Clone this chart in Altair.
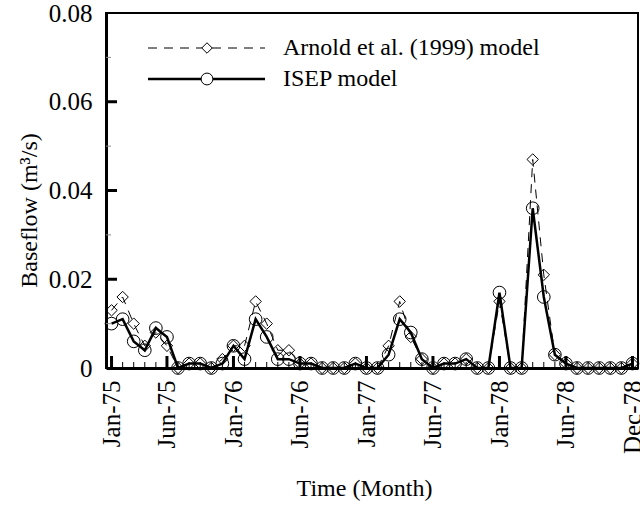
import altair as alt
import pandas as pd

# ---- data ----
months = list(range(48))  # Jan-75 ... Dec-78 (monthly index)

isep = [0.010, 0.011, 0.006, 0.004, 0.009, 0.007,
        0.000, 0.001, 0.001, 0.000, 0.001, 0.005,
        0.002, 0.011, 0.007, 0.002, 0.002, 0.001,
        0.001, 0.000, 0.000, 0.000, 0.001, 0.000,
        0.000, 0.003, 0.011, 0.008, 0.002, 0.000,
        0.001, 0.001, 0.002, 0.000, 0.000, 0.017,
        0.000, 0.000, 0.036, 0.016, 0.003, 0.001,
        0.000, 0.000, 0.000, 0.000, 0.000, 0.001]

arnold = [0.013, 0.016, 0.010, 0.005, 0.008, 0.005,
          0.000, 0.001, 0.001, 0.000, 0.002, 0.005,
          0.005, 0.015, 0.010, 0.004, 0.004, 0.001,
          0.001, 0.000, 0.000, 0.000, 0.001, 0.000,
          0.000, 0.005, 0.015, 0.007, 0.002, 0.000,
          0.001, 0.001, 0.002, 0.000, 0.000, 0.015,
          0.000, 0.000, 0.047, 0.021, 0.003, 0.001,
          0.000, 0.000, 0.000, 0.000, 0.000, 0.001]

x_tick_pos = [0, 5, 11, 17, 23, 29, 35, 41, 47]
x_tick_text = ["Jan-75", "Jun-75", "Jan-76", "Jun-76", "Jan-77",
               "Jun-77", "Jan-78", "Jun-78", "Dec-78"]
y_ticks = [0, 0.02, 0.04, 0.06, 0.08]
y_minor = [0.01, 0.03, 0.05, 0.07]

series_names = ["Arnold et al. (1999) model", "ISEP model"]

# ---- layout ----
W, H = 532, 355
FONT = "Liberation Serif"
FS = 24
LFS = 25

df_a = pd.DataFrame({"m": months, "v": arnold})
df_i = pd.DataFrame({"m": months, "v": isep})
df_xt = pd.DataFrame({"m": x_tick_pos})
df_xm = pd.DataFrame({"m": [m for m in months if m not in x_tick_pos]})
df_yt = pd.DataFrame({"v": y_ticks[1:-1]})
df_ym = pd.DataFrame({"v": y_minor})

label_map = "{" + ",".join(f"'{p}':'{t}'" for p, t in zip(x_tick_pos, x_tick_text)) + "}"

xscale = alt.Scale(domain=[-0.5, 47.5], nice=False, zero=False)
yscale = alt.Scale(domain=[0, 0.08], nice=False)

xaxis = alt.Axis(values=x_tick_pos, labelExpr=f"{label_map}[datum.value]",
                 labelAngle=270, labelPadding=12, ticks=False, grid=False,
                 title="Time (Month)", titleX=258, titleY=120,
                 titleBaseline="middle", titleAlign="center",
                 domainWidth=3, domainColor="black")
yaxis = alt.Axis(values=y_ticks,
                 labelExpr="datum.value == 0 ? '0' : format(datum.value, '.2f')",
                 labelPadding=14, ticks=False, grid=False,
                 title="Baseflow (m³/s)", titleAngle=270, titleX=-77, titleY=197,
                 titleBaseline="middle", titleAlign="center",
                 domainWidth=3, domainColor="black")

X = alt.X("m:Q", scale=xscale, axis=xaxis)
Y = alt.Y("v:Q", scale=yscale, axis=yaxis)

arn_line = alt.Chart(df_a).mark_line(color="black", strokeWidth=1,
                                     strokeDash=[9, 7]).encode(x=X, y=Y)
arn_pts = alt.Chart(df_a).mark_point(shape="diamond", size=130, filled=False,
                                     color="black", strokeWidth=1, opacity=1).encode(x=X, y=Y)
isep_line = alt.Chart(df_i).mark_line(color="black", strokeWidth=2.5).encode(x=X, y=Y)
isep_pts = alt.Chart(df_i).mark_point(shape="circle", size=160, filled=False,
                                      color="black", strokeWidth=1, opacity=1).encode(x=X, y=Y)

# inward axis ticks
xt_major = alt.Chart(df_xt).mark_rule(color="black", strokeWidth=3).encode(
    x=alt.X("m:Q", scale=xscale), y=alt.value(H - 12), y2=alt.value(H))
xt_minor = alt.Chart(df_xm).mark_rule(color="black", strokeWidth=1).encode(
    x=alt.X("m:Q", scale=xscale), y=alt.value(H - 6), y2=alt.value(H))
yt_major = alt.Chart(df_yt).mark_rule(color="black", strokeWidth=3).encode(
    y=alt.Y("v:Q", scale=yscale), x=alt.value(0), x2=alt.value(11))
yt_minor = alt.Chart(df_ym).mark_rule(color="#888888", strokeWidth=1).encode(
    y=alt.Y("v:Q", scale=yscale), x=alt.value(0), x2=alt.value(5))

# manual legend (top-left inside)
leg = pd.DataFrame({"name": series_names})
la = leg.iloc[[0]]
li = leg.iloc[[1]]
leg_a_line = alt.Chart(la).mark_rule(color="black", strokeWidth=1, strokeDash=[9, 7]).encode(
    x=alt.value(42), x2=alt.value(159), y=alt.value(35))
leg_a_pt = alt.Chart(la).mark_point(shape="diamond", size=110, filled=True, fill="white",
                                    stroke="black", strokeWidth=1, opacity=1).encode(
    x=alt.value(101), y=alt.value(35))
leg_a_txt = alt.Chart(la).mark_text(align="left", baseline="middle", font=FONT,
                                    fontSize=FS, color="black").encode(
    x=alt.value(177), y=alt.value(35), text="name:N")
leg_i_line = alt.Chart(li).mark_rule(color="black", strokeWidth=2.5).encode(
    x=alt.value(42), x2=alt.value(159), y=alt.value(66))
leg_i_pt = alt.Chart(li).mark_point(shape="circle", size=140, filled=True, fill="white",
                                    stroke="black", strokeWidth=1, opacity=1).encode(
    x=alt.value(101), y=alt.value(66))
leg_i_txt = alt.Chart(li).mark_text(align="left", baseline="middle", font=FONT,
                                    fontSize=FS, color="black").encode(
    x=alt.value(177), y=alt.value(66), text="name:N")

chart = alt.layer(
    arn_line, isep_line, arn_pts, isep_pts,
    xt_major, xt_minor, yt_major, yt_minor,
    leg_a_line, leg_a_pt, leg_a_txt, leg_i_line, leg_i_pt, leg_i_txt,
).properties(
    width=W, height=H,
    padding={"left": 106, "top": 13, "right": 2, "bottom": 137},
    autosize="none",
    background="white",
).configure_view(
    stroke="black", strokeWidth=2
).configure_axis(
    labelFont=FONT, labelFontSize=LFS, labelColor="black",
    titleFont=FONT, titleFontSize=FS, titleColor="black", titleFontWeight="normal",
)

chart.save("out.html", embed_options={"renderer": "svg", "actions": False})
